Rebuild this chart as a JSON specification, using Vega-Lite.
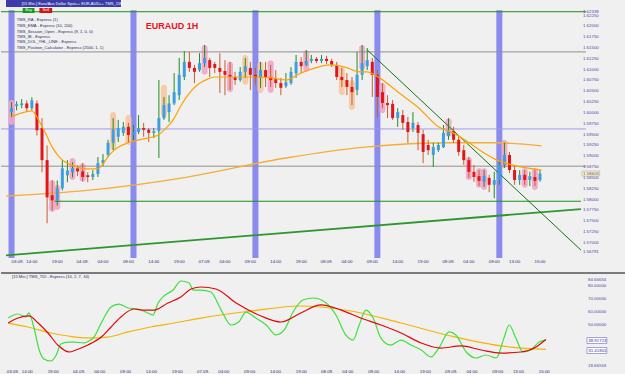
{
"$schema": "https://vega.github.io/schema/vega-lite/v6.json",
"background": "#f0f0f0",
"padding": 0,
"spacing": 15,
"bounds": "flush",
"config": {"view": {"stroke": null}, "font": "Liberation Sans", "axis": {"disable": true, "labels": false, "domain": false, "ticks": false, "grid": false, "title": null}},
"datasets": {
"candles": [
{"t":10,"o":1.6002,"h":1.6025,"l":1.5990,"c":1.6011},
{"t":11,"o":1.6016,"h":1.6027,"l":1.6006,"c":1.6020},
{"t":12,"o":1.6018,"h":1.6032,"l":1.6011,"c":1.6022},
{"t":13,"o":1.6022,"h":1.6029,"l":1.6002,"c":1.6011},
{"t":14,"o":1.6011,"h":1.6036,"l":1.6006,"c":1.6029},
{"t":15,"o":1.6022,"h":1.6029,"l":1.5948,"c":1.5960},
{"t":16,"o":1.5965,"h":1.5988,"l":1.5863,"c":1.5891},
{"t":17,"o":1.5891,"h":1.5925,"l":1.5745,"c":1.5805},
{"t":18,"o":1.5810,"h":1.5844,"l":1.5775,"c":1.5798},
{"t":19,"o":1.5798,"h":1.5844,"l":1.5786,"c":1.5826},
{"t":20,"o":1.5826,"h":1.5891,"l":1.5821,"c":1.5872},
{"t":21,"o":1.5856,"h":1.5891,"l":1.5840,"c":1.5867},
{"t":22,"o":1.5863,"h":1.5886,"l":1.5851,"c":1.5872},
{"t":23,"o":1.5872,"h":1.5879,"l":1.5854,"c":1.5865},
{"t":24,"o":1.5865,"h":1.5884,"l":1.5842,"c":1.5852},
{"t":25,"o":1.5856,"h":1.5863,"l":1.5840,"c":1.5852},
{"t":26,"o":1.5852,"h":1.5868,"l":1.5845,"c":1.5859},
{"t":27,"o":1.5859,"h":1.5898,"l":1.5852,"c":1.5884},
{"t":28,"o":1.5884,"h":1.5905,"l":1.5877,"c":1.5891},
{"t":29,"o":1.5903,"h":1.5938,"l":1.5898,"c":1.5931},
{"t":30,"o":1.5931,"h":1.5988,"l":1.5914,"c":1.5961},
{"t":31,"o":1.5945,"h":1.5984,"l":1.5933,"c":1.5965},
{"t":32,"o":1.5954,"h":1.5979,"l":1.5947,"c":1.5968},
{"t":33,"o":1.5968,"h":1.5977,"l":1.5931,"c":1.5949},
{"t":34,"o":1.5949,"h":1.5972,"l":1.5937,"c":1.5956},
{"t":35,"o":1.5956,"h":1.5995,"l":1.5951,"c":1.5965},
{"t":36,"o":1.5965,"h":1.5977,"l":1.5945,"c":1.5961},
{"t":37,"o":1.5961,"h":1.5965,"l":1.5933,"c":1.5954},
{"t":38,"o":1.5954,"h":1.5965,"l":1.5942,"c":1.5958},
{"t":39,"o":1.5958,"h":1.6076,"l":1.5896,"c":1.5988},
{"t":40,"o":1.5988,"h":1.6037,"l":1.5984,"c":1.6018},
{"t":41,"o":1.6002,"h":1.6041,"l":1.5979,"c":1.6022},
{"t":42,"o":1.6022,"h":1.6092,"l":1.6018,"c":1.6048},
{"t":43,"o":1.6041,"h":1.6127,"l":1.6030,"c":1.6088},
{"t":44,"o":1.6083,"h":1.6143,"l":1.6076,"c":1.6118},
{"t":45,"o":1.6118,"h":1.6141,"l":1.6095,"c":1.6104},
{"t":46,"o":1.6104,"h":1.6111,"l":1.6069,"c":1.6095},
{"t":47,"o":1.6099,"h":1.6138,"l":1.6095,"c":1.6115},
{"t":48,"o":1.6115,"h":1.6157,"l":1.6106,"c":1.6127},
{"t":49,"o":1.6122,"h":1.6127,"l":1.6083,"c":1.6104},
{"t":50,"o":1.6113,"h":1.6118,"l":1.6092,"c":1.6104},
{"t":51,"o":1.6104,"h":1.6138,"l":1.6046,"c":1.6095},
{"t":52,"o":1.6097,"h":1.6122,"l":1.6041,"c":1.6088},
{"t":53,"o":1.6088,"h":1.6118,"l":1.6053,"c":1.6083},
{"t":54,"o":1.6083,"h":1.6095,"l":1.6065,"c":1.6076},
{"t":55,"o":1.6076,"h":1.6106,"l":1.6072,"c":1.6095},
{"t":56,"o":1.6095,"h":1.6127,"l":1.6081,"c":1.6108},
{"t":57,"o":1.6104,"h":1.6118,"l":1.6053,"c":1.6088},
{"t":58,"o":1.6088,"h":1.6104,"l":1.6065,"c":1.6081},
{"t":59,"o":1.6081,"h":1.6118,"l":1.6058,"c":1.6099},
{"t":60,"o":1.6099,"h":1.6118,"l":1.6060,"c":1.6083},
{"t":61,"o":1.6083,"h":1.6111,"l":1.6060,"c":1.6076},
{"t":62,"o":1.6078,"h":1.6099,"l":1.6058,"c":1.6069},
{"t":63,"o":1.6069,"h":1.6081,"l":1.6041,"c":1.6058},
{"t":64,"o":1.6062,"h":1.6092,"l":1.6058,"c":1.6071},
{"t":65,"o":1.6069,"h":1.6106,"l":1.6065,"c":1.6095},
{"t":66,"o":1.6092,"h":1.6134,"l":1.6081,"c":1.6118},
{"t":67,"o":1.6118,"h":1.6129,"l":1.6092,"c":1.6108},
{"t":68,"o":1.6111,"h":1.6145,"l":1.6108,"c":1.6120},
{"t":69,"o":1.6120,"h":1.6134,"l":1.6115,"c":1.6125},
{"t":70,"o":1.6125,"h":1.6129,"l":1.6115,"c":1.6120},
{"t":71,"o":1.6120,"h":1.6134,"l":1.6115,"c":1.6125},
{"t":72,"o":1.6125,"h":1.6132,"l":1.6113,"c":1.6120},
{"t":73,"o":1.6120,"h":1.6125,"l":1.6106,"c":1.6111},
{"t":74,"o":1.6111,"h":1.6118,"l":1.6076,"c":1.6083},
{"t":75,"o":1.6083,"h":1.6104,"l":1.6060,"c":1.6076},
{"t":76,"o":1.6076,"h":1.6092,"l":1.6041,"c":1.6060},
{"t":77,"o":1.6060,"h":1.6083,"l":1.6018,"c":1.6048},
{"t":78,"o":1.6053,"h":1.6141,"l":1.6041,"c":1.6088},
{"t":79,"o":1.6088,"h":1.6157,"l":1.6076,"c":1.6115},
{"t":80,"o":1.6108,"h":1.6150,"l":1.6099,"c":1.6122},
{"t":81,"o":1.6118,"h":1.6127,"l":1.6037,"c":1.6088},
{"t":82,"o":1.6088,"h":1.6099,"l":1.5990,"c":1.6037},
{"t":83,"o":1.6048,"h":1.6069,"l":1.6011,"c":1.6023},
{"t":84,"o":1.6023,"h":1.6041,"l":1.5988,"c":1.6018},
{"t":85,"o":1.6021,"h":1.6030,"l":1.5984,"c":1.5988},
{"t":86,"o":1.5988,"h":1.6011,"l":1.5968,"c":1.6002},
{"t":87,"o":1.5995,"h":1.6007,"l":1.5961,"c":1.5977},
{"t":88,"o":1.5979,"h":1.5991,"l":1.5931,"c":1.5956},
{"t":89,"o":1.5965,"h":1.6002,"l":1.5956,"c":1.5977},
{"t":90,"o":1.5972,"h":1.5979,"l":1.5914,"c":1.5954},
{"t":91,"o":1.5951,"h":1.5961,"l":1.5884,"c":1.5910},
{"t":92,"o":1.5926,"h":1.5938,"l":1.5903,"c":1.5914},
{"t":93,"o":1.5903,"h":1.5931,"l":1.5875,"c":1.5921},
{"t":94,"o":1.5914,"h":1.5931,"l":1.5910,"c":1.5926},
{"t":95,"o":1.5921,"h":1.5972,"l":1.5919,"c":1.5954},
{"t":96,"o":1.5947,"h":1.5988,"l":1.5938,"c":1.5958},
{"t":97,"o":1.5958,"h":1.5968,"l":1.5931,"c":1.5938},
{"t":98,"o":1.5938,"h":1.5947,"l":1.5901,"c":1.5910},
{"t":99,"o":1.5914,"h":1.5926,"l":1.5880,"c":1.5891},
{"t":100,"o":1.5891,"h":1.5898,"l":1.5850,"c":1.5864},
{"t":101,"o":1.5864,"h":1.5880,"l":1.5841,"c":1.5852},
{"t":102,"o":1.5854,"h":1.5868,"l":1.5831,"c":1.5843},
{"t":103,"o":1.5841,"h":1.5868,"l":1.5829,"c":1.5854},
{"t":104,"o":1.5850,"h":1.5857,"l":1.5817,"c":1.5834},
{"t":105,"o":1.5834,"h":1.5864,"l":1.5803,"c":1.5845},
{"t":106,"o":1.5845,"h":1.5891,"l":1.5834,"c":1.5880},
{"t":107,"o":1.5880,"h":1.5931,"l":1.5873,"c":1.5903},
{"t":108,"o":1.5903,"h":1.5910,"l":1.5861,"c":1.5868},
{"t":109,"o":1.5868,"h":1.5880,"l":1.5834,"c":1.5845},
{"t":110,"o":1.5845,"h":1.5868,"l":1.5834,"c":1.5857},
{"t":111,"o":1.5857,"h":1.5868,"l":1.5834,"c":1.5845},
{"t":112,"o":1.5845,"h":1.5864,"l":1.5831,"c":1.5854},
{"t":113,"o":1.5852,"h":1.5868,"l":1.5831,"c":1.5843},
{"t":114,"o":1.5845,"h":1.5868,"l":1.5841,"c":1.5860}
],
"ema": [
{"t":10,"v":1.5991},{"t":12,"v":1.6000},{"t":14,"v":1.6005},{"t":15.3,"v":1.5984},{"t":16.65,"v":1.5954},
{"t":18,"v":1.5921},{"t":19.2,"v":1.5901},{"t":20.5,"v":1.5887},{"t":22.45,"v":1.5877},{"t":24.4,"v":1.5871},
{"t":26.9,"v":1.5871},{"t":27.9,"v":1.5880},{"t":28.8,"v":1.5896},{"t":30.2,"v":1.5914},{"t":32.9,"v":1.5931},
{"t":36,"v":1.5940},{"t":37.9,"v":1.5945},{"t":38.9,"v":1.5949},{"t":40.4,"v":1.5965},{"t":41.8,"v":1.5984},
{"t":43.3,"v":1.6016},{"t":44.7,"v":1.6041},{"t":46.6,"v":1.6065},{"t":48.6,"v":1.6078},{"t":49.9,"v":1.6083},
{"t":53.4,"v":1.6083},{"t":57.3,"v":1.6083},{"t":61.1,"v":1.6081},{"t":64,"v":1.6076},{"t":66.9,"v":1.6092},
{"t":69.8,"v":1.6104},{"t":72.7,"v":1.6111},{"t":75.6,"v":1.6106},{"t":78.5,"v":1.6095},{"t":79.9,"v":1.6095},
{"t":82.4,"v":1.6081},{"t":86.3,"v":1.6046},{"t":90.2,"v":1.6011},{"t":94,"v":1.5968},{"t":96.9,"v":1.5954},
{"t":99.8,"v":1.5933},{"t":102.7,"v":1.5910},{"t":105.6,"v":1.5891},{"t":108.5,"v":1.5880},{"t":111.4,"v":1.5873},
{"t":114.3,"v":1.5868}
],
"ema200": [
{"t":9.0,"v":1.5808},{"t":27.4,"v":1.5824},{"t":43.7,"v":1.5850},{"t":64,"v":1.5896},{"t":79.5,"v":1.5921},
{"t":97,"v":1.5931},{"t":105.6,"v":1.5931},{"t":114.3,"v":1.5924}
],
"hl": [
{"t":10,"lo":1.5972,"hi":1.6030,"k":"pink"},
{"t":18,"lo":1.5771,"hi":1.5845,"k":"pink"},
{"t":19,"lo":1.5776,"hi":1.5834,"k":"pink"},
{"t":22,"lo":1.5845,"hi":1.5896,"k":"pink"},
{"t":24,"lo":1.5841,"hi":1.5884,"k":"pink"},
{"t":30,"lo":1.5914,"hi":1.6002,"k":"peach"},
{"t":33,"lo":1.5926,"hi":1.5995,"k":"peach"},
{"t":40,"lo":1.5991,"hi":1.6065,"k":"peach"},
{"t":48,"lo":1.6088,"hi":1.6157,"k":"pink"},
{"t":53,"lo":1.6048,"hi":1.6118,"k":"pink"},
{"t":56,"lo":1.6065,"hi":1.6134,"k":"peach"},
{"t":59,"lo":1.6046,"hi":1.6118,"k":"peach"},
{"t":61,"lo":1.6046,"hi":1.6122,"k":"pink"},
{"t":68,"lo":1.6095,"hi":1.6145,"k":"pink"},
{"t":75,"lo":1.6041,"hi":1.6106,"k":"peach"},
{"t":77,"lo":1.6007,"hi":1.6076,"k":"peach"},
{"t":79,"lo":1.6099,"hi":1.6157,"k":"pink"},
{"t":83,"lo":1.5999,"hi":1.6069,"k":"pink"},
{"t":96,"lo":1.5945,"hi":1.5988,"k":"pink"},
{"t":100,"lo":1.5845,"hi":1.5898,"k":"pink"},
{"t":102,"lo":1.5827,"hi":1.5873,"k":"pink"},
{"t":103,"lo":1.5822,"hi":1.5873,"k":"pink"},
{"t":107,"lo":1.5873,"hi":1.5938,"k":"pink"},
{"t":111,"lo":1.5827,"hi":1.5873,"k":"pink"},
{"t":113,"lo":1.5822,"hi":1.5873,"k":"pink"}
],
"bands": [{"t":10},{"t":34},{"t":58},{"t":82},{"t":106}],
"levels": [{"p":1.62338,"k":"green"},{"p":1.6141,"k":"gray"},{"p":1.5963,"k":"purple"},{"p":1.5877,"k":"gray"}],
"trend": [
{"line":"up","t":8.913,"p":1.5671},{"line":"up","t":122.07,"p":1.5778},
{"line":"down","t":80,"p":1.61454},{"line":"down","t":122.07,"p":1.5683}
],
"legend": [
{"t":11.04,"p":1.62147,"text":"TMS_RA - Express (1)"},
{"t":11.04,"p":1.62015,"text":"TMS_EMA - Express (10, 200)"},
{"t":11.04,"p":1.61877,"text":"TMS_Session_Open - Express (9, 1, 0, 0)"},
{"t":11.04,"p":1.61754,"text":"TMS_IB - Express"},
{"t":11.04,"p":1.61632,"text":"TMS_DOL_YHL_LINE - Express"},
{"t":11.04,"p":1.61507,"text":"TMS_Position_Calculator - Express (2500, 1, 1)"}
],
"timeLabels": [
{"t":11.2,"text":"03.09.","b":1},{"t":14,"text":"14:00","b":0},{"t":19,"text":"19:00","b":0},
{"t":24,"text":"04.09.","b":1},{"t":28,"text":"04:00","b":0},{"t":33,"text":"09:00","b":0},{"t":38,"text":"14:00","b":0},{"t":43,"text":"19:00","b":0},
{"t":48,"text":"07.09.","b":1},{"t":52,"text":"04:00","b":0},{"t":57,"text":"09:00","b":0},{"t":62,"text":"14:00","b":0},{"t":67,"text":"19:00","b":0},
{"t":72,"text":"08.09.","b":1},{"t":76,"text":"04:00","b":0},{"t":81,"text":"09:00","b":0},{"t":86,"text":"14:00","b":0},{"t":91,"text":"19:00","b":0},
{"t":96,"text":"09.09.","b":1},{"t":100,"text":"04:00","b":0},{"t":105,"text":"09:00","b":0},{"t":109,"text":"13:00","b":0},{"t":114,"text":"15:00","b":0}
],
"priceLabels": [
{"p":1.56791,"text":"1.56791"},{"p":1.57,"text":"1.57000"},{"p":1.5725,"text":"1.57250"},{"p":1.575,"text":"1.57500"},
{"p":1.5775,"text":"1.57750"},{"p":1.58,"text":"1.58000"},{"p":1.5825,"text":"1.58250"},{"p":1.585,"text":"1.58500"},
{"p":1.5875,"text":"1.58750"},{"p":1.59,"text":"1.59000"},{"p":1.5925,"text":"1.59250"},{"p":1.595,"text":"1.59500"},
{"p":1.5975,"text":"1.59750"},{"p":1.6,"text":"1.60000"},{"p":1.6025,"text":"1.60250"},{"p":1.605,"text":"1.60500"},
{"p":1.6075,"text":"1.60750"},{"p":1.61,"text":"1.61000"},{"p":1.6125,"text":"1.61250"},{"p":1.615,"text":"1.61500"},
{"p":1.6175,"text":"1.61750"},{"p":1.62,"text":"1.62000"},{"p":1.6225,"text":"1.62250"},{"p":1.62338,"text":"1.62338"}
],
"oscLabels": [
{"v":18.66553,"text":"18.66553"},{"v":50,"text":"50.00000"},{"v":60,"text":"60.00000"},{"v":70,"text":"70.00000"},
{"v":80,"text":"80.00000"},{"v":84.66654,"text":"84.66654"}
],
"osc": [
{"s":"orange","t":10.3,"v":51.5},{"s":"orange","t":14.1,"v":48.5},{"s":"orange","t":18.6,"v":43.9},{"s":"orange","t":21.9,"v":41.6},
{"s":"orange","t":25.7,"v":40.1},{"s":"orange","t":29.6,"v":40.8},{"s":"orange","t":33.5,"v":44.7},{"s":"orange","t":37.9,"v":48.5},
{"s":"orange","t":42.4,"v":51.5},{"s":"orange","t":47.6,"v":55.3},{"s":"orange","t":57.3,"v":60.7},{"s":"orange","t":66.9,"v":64.5},
{"s":"orange","t":76.6,"v":60.7},{"s":"orange","t":86.3,"v":51.5},{"s":"orange","t":95.9,"v":41.6},{"s":"orange","t":105.6,"v":34.0},
{"s":"orange","t":114.3,"v":31.4},
{"s":"green","t":10.3,"v":55.3},{"s":"green","t":12.2,"v":58.4},{"s":"green","t":13.7,"v":56.1},{"s":"green","t":14.3,"v":59.2},
{"s":"green","t":15.3,"v":47.7},{"s":"green","t":16.3,"v":30.9},{"s":"green","t":17.2,"v":24.1},{"s":"green","t":18.6,"v":22.5},
{"s":"green","t":19.6,"v":27.1},{"s":"green","t":20.5,"v":35.5},{"s":"green","t":21.9,"v":37.0},{"s":"green","t":23.0,"v":37.0},
{"s":"green","t":25.0,"v":36.3},{"s":"green","t":25.9,"v":37.8},{"s":"green","t":26.9,"v":40.8},{"s":"green","t":28.3,"v":51.5},
{"s":"green","t":30.2,"v":63.7},{"s":"green","t":31.7,"v":66.0},{"s":"green","t":33.5,"v":63.0},{"s":"green","t":35.4,"v":62.2},
{"s":"green","t":37.3,"v":59.2},{"s":"green","t":38.3,"v":57.6},{"s":"green","t":39.3,"v":66.8},{"s":"green","t":40.4,"v":72.1},
{"s":"green","t":42.2,"v":76.7},{"s":"green","t":43.7,"v":83.6},{"s":"green","t":45.3,"v":82.1},{"s":"green","t":46.1,"v":76.7},
{"s":"green","t":47.6,"v":76.7},{"s":"green","t":49.5,"v":75.2},{"s":"green","t":51.5,"v":61.4},{"s":"green","t":53.4,"v":50.0},
{"s":"green","t":54.9,"v":52.3},{"s":"green","t":56.3,"v":59.9},{"s":"green","t":58.2,"v":55.3},{"s":"green","t":60.2,"v":50.0},
{"s":"green","t":62.1,"v":42.4},{"s":"green","t":63.7,"v":46.2},{"s":"green","t":65.4,"v":59.9},{"s":"green","t":67.3,"v":69.1},
{"s":"green","t":69.3,"v":70.6},{"s":"green","t":71.8,"v":66.8},{"s":"green","t":73.7,"v":57.6},{"s":"green","t":75.6,"v":42.4},
{"s":"green","t":77.0,"v":38.5},{"s":"green","t":78.2,"v":50.0},{"s":"green","t":79.5,"v":61.4},{"s":"green","t":80.9,"v":55.3},
{"s":"green","t":82.4,"v":40.0},{"s":"green","t":84.3,"v":34.7},{"s":"green","t":86.3,"v":38.5},{"s":"green","t":88.2,"v":34.7},
{"s":"green","t":90.2,"v":30.9},{"s":"green","t":92.1,"v":25.6},{"s":"green","t":93.6,"v":32.4},{"s":"green","t":95.6,"v":44.7},
{"s":"green","t":96.9,"v":42.4},{"s":"green","t":98.9,"v":29.4},{"s":"green","t":100.8,"v":24.8},{"s":"green","t":102.7,"v":27.1},
{"s":"green","t":104.7,"v":24.8},{"s":"green","t":106.2,"v":40.0},{"s":"green","t":107.2,"v":50.0},{"s":"green","t":108.5,"v":40.0},
{"s":"green","t":109.9,"v":29.4},{"s":"green","t":111.4,"v":30.9},{"s":"green","t":113.0,"v":37.0},{"s":"green","t":114.3,"v":38.5},
{"s":"red","t":10.3,"v":51.5},{"s":"red","t":12.2,"v":55.3},{"s":"red","t":14.3,"v":56.9},{"s":"red","t":16.1,"v":51.5},
{"s":"red","t":18.0,"v":43.9},{"s":"red","t":19.9,"v":34.7},{"s":"red","t":22.1,"v":29.4},{"s":"red","t":23.4,"v":30.9},
{"s":"red","t":25.7,"v":34.7},{"s":"red","t":28.3,"v":40.8},{"s":"red","t":30.2,"v":48.5},{"s":"red","t":32.1,"v":56.1},
{"s":"red","t":34.6,"v":62.2},{"s":"red","t":36.6,"v":61.4},{"s":"red","t":38.5,"v":61.4},{"s":"red","t":41.2,"v":66.8},
{"s":"red","t":43.7,"v":71.4},{"s":"red","t":45.7,"v":77.5},{"s":"red","t":47.6,"v":79.0},{"s":"red","t":50.5,"v":77.5},
{"s":"red","t":54.4,"v":66.8},{"s":"red","t":59.2,"v":56.9},{"s":"red","t":63.1,"v":52.3},{"s":"red","t":66.9,"v":59.2},
{"s":"red","t":70.8,"v":65.3},{"s":"red","t":74.7,"v":61.4},{"s":"red","t":78.5,"v":55.3},{"s":"red","t":82.4,"v":50.0},
{"s":"red","t":86.3,"v":43.9},{"s":"red","t":90.2,"v":36.3},{"s":"red","t":94.0,"v":32.4},{"s":"red","t":97.9,"v":34.0},
{"s":"red","t":101.8,"v":30.9},{"s":"red","t":105.6,"v":28.6},{"s":"red","t":109.5,"v":29.4},{"s":"red","t":112.4,"v":33.2},
{"s":"red","t":114.3,"v":38.9}
]
},
"vconcat": [
{
"width": 585,
"height": 258,
"layer": [
{
"data": {"name": "bands"},
"mark": {"type": "bar", "size": 6, "color": "#7878ee", "opacity": 0.85},
"encoding": {
"x": {"field": "t", "type": "quantitative", "scale": {"domain": [8.913, 122.07], "nice": false, "zero": false}, "axis": null},
"y": {"datum": 1.56649, "type": "quantitative", "scale": {"domain": [1.56649, 1.62609], "nice": false, "zero": false}, "axis": null},
"y2": {"datum": 1.6237}
}
},
{
"data": {"name": "hl"},
"mark": {"type": "bar", "size": 6, "cornerRadius": 3, "opacity": 0.9},
"encoding": {
"x": {"field": "t", "type": "quantitative", "scale": {"domain": [8.913, 122.07], "nice": false, "zero": false}, "axis": null},
"y": {"field": "lo", "type": "quantitative", "scale": {"domain": [1.56649, 1.62609], "nice": false, "zero": false}, "axis": null},
"y2": {"field": "hi"},
"color": {"condition": {"test": "datum.k == 'pink'", "value": "#f3a4c8"}, "value": "#f7c6a0"}
}
},
{
"data": {"name": "levels"},
"mark": {"type": "rule", "strokeWidth": 1},
"encoding": {
"y": {"field": "p", "type": "quantitative", "scale": {"domain": [1.56649, 1.62609], "nice": false, "zero": false}, "axis": null},
"color": {"condition": [{"test": "datum.k == 'green'", "value": "#1a8f1a"}, {"test": "datum.k == 'purple'", "value": "#9c9ce8"}], "value": "#909090"}
}
},
{
"data": {"values": [{}]},
"mark": {"type": "rule", "strokeWidth": 1.2, "color": "#1a8f1a"},
"encoding": {
"x": {"datum": 18.5, "type": "quantitative", "scale": {"domain": [8.913, 122.07], "nice": false, "zero": false}, "axis": null},
"x2": {"datum": 122.07},
"y": {"datum": 1.5796, "type": "quantitative", "scale": {"domain": [1.56649, 1.62609], "nice": false, "zero": false}, "axis": null}
}
},
{
"data": {"name": "trend"},
"mark": {"type": "line"},
"encoding": {
"x": {"field": "t", "type": "quantitative", "scale": {"domain": [8.913, 122.07], "nice": false, "zero": false}, "axis": null},
"y": {"field": "p", "type": "quantitative", "scale": {"domain": [1.56649, 1.62609], "nice": false, "zero": false}, "axis": null},
"detail": {"field": "line", "type": "nominal"},
"color": {"condition": {"test": "datum.line == 'up'", "value": "#2f962f"}, "value": "#137313"},
"strokeWidth": {"condition": {"test": "datum.line == 'up'", "value": 1.8}, "value": 1}
}
},
{
"data": {"name": "ema200"},
"mark": {"type": "line", "interpolate": "monotone", "strokeWidth": 1.4, "color": "#f5ad35"},
"encoding": {
"x": {"field": "t", "type": "quantitative", "scale": {"domain": [8.913, 122.07], "nice": false, "zero": false}, "axis": null},
"y": {"field": "v", "type": "quantitative", "scale": {"domain": [1.56649, 1.62609], "nice": false, "zero": false}, "axis": null}
}
},
{
"data": {"name": "candles"},
"mark": {"type": "rule", "strokeWidth": 1},
"encoding": {
"x": {"field": "t", "type": "quantitative", "scale": {"domain": [8.913, 122.07], "nice": false, "zero": false}, "axis": null},
"y": {"field": "l", "type": "quantitative", "scale": {"domain": [1.56649, 1.62609], "nice": false, "zero": false}, "axis": null},
"y2": {"field": "h"},
"color": {"condition": {"test": "datum.c >= datum.o", "value": "#1f8f1f"}, "value": "#c0622a"}
}
},
{
"data": {"name": "candles"},
"mark": {"type": "bar", "size": 3},
"encoding": {
"x": {"field": "t", "type": "quantitative", "scale": {"domain": [8.913, 122.07], "nice": false, "zero": false}, "axis": null},
"y": {"field": "o", "type": "quantitative", "scale": {"domain": [1.56649, 1.62609], "nice": false, "zero": false}, "axis": null},
"y2": {"field": "c"},
"color": {"condition": {"test": "datum.c >= datum.o", "value": "#3d9de2"}, "value": "#e3141a"}
}
},
{
"data": {"name": "ema"},
"mark": {"type": "line", "interpolate": "monotone", "strokeWidth": 1.2, "color": "#ffa200"},
"encoding": {
"x": {"field": "t", "type": "quantitative", "scale": {"domain": [8.913, 122.07], "nice": false, "zero": false}, "axis": null},
"y": {"field": "v", "type": "quantitative", "scale": {"domain": [1.56649, 1.62609], "nice": false, "zero": false}, "axis": null}
}
},
{
"data": {"values": [{}]},
"mark": {"type": "rect", "color": "#3c3ca8"},
"encoding": {
"x": {"datum": 8.913, "type": "quantitative", "scale": {"domain": [8.913, 122.07], "nice": false, "zero": false}, "axis": null},
"x2": {"datum": 31.54},
"y": {"datum": 1.62609, "type": "quantitative", "scale": {"domain": [1.56649, 1.62609], "nice": false, "zero": false}, "axis": null},
"y2": {"datum": 1.62447}
}
},
{
"data": {"values": [{}]},
"mark": {"type": "rect", "color": "#18961c"},
"encoding": {
"x": {"datum": 12.2, "type": "quantitative", "scale": {"domain": [8.913, 122.07], "nice": false, "zero": false}, "axis": null},
"x2": {"datum": 14.52},
"y": {"datum": 1.62424, "type": "quantitative", "scale": {"domain": [1.56649, 1.62609], "nice": false, "zero": false}, "axis": null},
"y2": {"datum": 1.62309}
}
},
{
"data": {"values": [{}]},
"mark": {"type": "rect", "color": "#d41414"},
"encoding": {
"x": {"datum": 15.49, "type": "quantitative", "scale": {"domain": [8.913, 122.07], "nice": false, "zero": false}, "axis": null},
"x2": {"datum": 18.0},
"y": {"datum": 1.62424, "type": "quantitative", "scale": {"domain": [1.56649, 1.62609], "nice": false, "zero": false}, "axis": null},
"y2": {"datum": 1.62309}
}
},
{
"data": {"values": [{"t": 12.0, "p": 1.62528, "text": "[15 Min.] Euro/Aus Dollar Spot++   EUR.AUD++  TMS_15M"}]},
"mark": {"type": "text", "align": "left", "baseline": "middle", "fontSize": 4, "color": "#ffffff"},
"encoding": {
"x": {"field": "t", "type": "quantitative", "scale": {"domain": [8.913, 122.07], "nice": false, "zero": false}, "axis": null},
"y": {"field": "p", "type": "quantitative", "scale": {"domain": [1.56649, 1.62609], "nice": false, "zero": false}, "axis": null},
"text": {"field": "text"}
}
},
{
"data": {"values": [{"t": 13.36, "p": 1.62367, "text": "Buy"}, {"t": 16.75, "p": 1.62367, "text": "Sell"}]},
"mark": {"type": "text", "align": "center", "baseline": "middle", "fontSize": 4, "color": "#ffffff"},
"encoding": {
"x": {"field": "t", "type": "quantitative", "scale": {"domain": [8.913, 122.07], "nice": false, "zero": false}, "axis": null},
"y": {"field": "p", "type": "quantitative", "scale": {"domain": [1.56649, 1.62609], "nice": false, "zero": false}, "axis": null},
"text": {"field": "text"}
}
},
{
"data": {"name": "legend"},
"mark": {"type": "text", "align": "left", "baseline": "middle", "fontSize": 4.1, "color": "#2a2a5e"},
"encoding": {
"x": {"field": "t", "type": "quantitative", "scale": {"domain": [8.913, 122.07], "nice": false, "zero": false}, "axis": null},
"y": {"field": "p", "type": "quantitative", "scale": {"domain": [1.56649, 1.62609], "nice": false, "zero": false}, "axis": null},
"text": {"field": "text"}
}
},
{
"data": {"values": [{"t": 41.6, "p": 1.62008, "text": "EURAUD 1H"}]},
"mark": {"type": "text", "align": "center", "baseline": "middle", "fontSize": 9, "fontWeight": "bold", "color": "#e8141c"},
"encoding": {
"x": {"field": "t", "type": "quantitative", "scale": {"domain": [8.913, 122.07], "nice": false, "zero": false}, "axis": null},
"y": {"field": "p", "type": "quantitative", "scale": {"domain": [1.56649, 1.62609], "nice": false, "zero": false}, "axis": null},
"text": {"field": "text"}
}
},
{
"data": {"name": "timeLabels"},
"mark": {"type": "text", "align": "center", "baseline": "middle", "fontSize": 4.4, "color": "#2a2a7a"},
"encoding": {
"x": {"field": "t", "type": "quantitative", "scale": {"domain": [8.913, 122.07], "nice": false, "zero": false}, "axis": null},
"y": {"datum": 1.56568, "type": "quantitative", "scale": {"domain": [1.56649, 1.62609], "nice": false, "zero": false}, "axis": null},
"text": {"field": "text"},
"fontWeight": {"condition": {"test": "datum.b == 1", "value": "bold"}, "value": "normal"}
}
},
{
"data": {"name": "priceLabels"},
"mark": {"type": "text", "align": "left", "baseline": "middle", "fontSize": 4.4, "color": "#5048a0"},
"encoding": {
"x": {"datum": 122.45, "type": "quantitative", "scale": {"domain": [8.913, 122.07], "nice": false, "zero": false}, "axis": null},
"y": {"field": "p", "type": "quantitative", "scale": {"domain": [1.56649, 1.62609], "nice": false, "zero": false}, "axis": null},
"text": {"field": "text"}
}
},
{
"data": {"values": [{}]},
"mark": {"type": "rect", "color": "#fff6c4", "stroke": "#a0a0a0", "strokeWidth": 0.5},
"encoding": {
"x": {"datum": 122.26, "type": "quantitative", "scale": {"domain": [8.913, 122.07], "nice": false, "zero": false}, "axis": null},
"x2": {"datum": 125.74},
"y": {"datum": 1.58659, "type": "quantitative", "scale": {"domain": [1.56649, 1.62609], "nice": false, "zero": false}, "axis": null},
"y2": {"datum": 1.58543}
}
},
{
"data": {"values": [{"t": 122.45, "p": 1.58601, "text": "1.58603"}]},
"mark": {"type": "text", "align": "left", "baseline": "middle", "fontSize": 4.4, "color": "#5048a0"},
"encoding": {
"x": {"field": "t", "type": "quantitative", "scale": {"domain": [8.913, 122.07], "nice": false, "zero": false}, "axis": null},
"y": {"field": "p", "type": "quantitative", "scale": {"domain": [1.56649, 1.62609], "nice": false, "zero": false}, "axis": null},
"text": {"field": "text"}
}
}
]
},
{
"width": 585,
"height": 95,
"layer": [
{
"data": {"name": "osc"},
"mark": {"type": "line", "interpolate": "monotone", "strokeWidth": 1.2},
"encoding": {
"x": {"field": "t", "type": "quantitative", "scale": {"domain": [8.913, 122.07], "nice": false, "zero": false}, "axis": null},
"y": {"field": "v", "type": "quantitative", "scale": {"domain": [17.17, 89.7], "nice": false, "zero": false}, "axis": null},
"detail": {"field": "s", "type": "nominal"},
"color": {"condition": [{"test": "datum.s == 'green'", "value": "#3ee03e"}, {"test": "datum.s == 'red'", "value": "#e00808"}], "value": "#f5b400"}
}
},
{
"data": {"values": [{}]},
"mark": {"type": "rule", "strokeWidth": 2, "color": "#7a7a7a"},
"encoding": {
"x": {"datum": 8.913, "type": "quantitative", "scale": {"domain": [8.913, 122.07], "nice": false, "zero": false}, "axis": null},
"x2": {"datum": 129.8},
"y": {"datum": 89.7, "type": "quantitative", "scale": {"domain": [17.17, 89.7], "nice": false, "zero": false}, "axis": null}
}
},
{
"data": {"values": [{"t": 11.04, "v": 86.8, "text": "[15 Min.] TMS_TDI - Express (10, 2, 7, 34)"}]},
"mark": {"type": "text", "align": "left", "baseline": "middle", "fontSize": 4.1, "color": "#2a2a5e"},
"encoding": {
"x": {"field": "t", "type": "quantitative", "scale": {"domain": [8.913, 122.07], "nice": false, "zero": false}, "axis": null},
"y": {"field": "v", "type": "quantitative", "scale": {"domain": [17.17, 89.7], "nice": false, "zero": false}, "axis": null},
"text": {"field": "text"}
}
},
{
"data": {"name": "timeLabels"},
"mark": {"type": "text", "align": "center", "baseline": "middle", "fontSize": 4.4, "color": "#2a2a7a"},
"encoding": {
"x": {"field": "t", "type": "quantitative", "scale": {"domain": [8.913, 122.07], "nice": false, "zero": false}, "axis": null},
"y": {"datum": 14.12, "type": "quantitative", "scale": {"domain": [17.17, 89.7], "nice": false, "zero": false}, "axis": null},
"text": {"field": "text"},
"fontWeight": {"condition": {"test": "datum.b == 1", "value": "bold"}, "value": "normal"}
}
},
{
"data": {"name": "oscLabels"},
"mark": {"type": "text", "align": "left", "baseline": "middle", "fontSize": 4.4, "color": "#5048a0"},
"encoding": {
"x": {"datum": 122.45, "type": "quantitative", "scale": {"domain": [8.913, 122.07], "nice": false, "zero": false}, "axis": null},
"y": {"field": "v", "type": "quantitative", "scale": {"domain": [17.17, 89.7], "nice": false, "zero": false}, "axis": null},
"text": {"field": "text"}
}
},
{
"data": {"values": [{}]},
"mark": {"type": "rect", "color": "#ffffff", "stroke": "#6a6ac4", "strokeWidth": 0.6},
"encoding": {
"x": {"datum": 122.26, "type": "quantitative", "scale": {"domain": [8.913, 122.07], "nice": false, "zero": false}, "axis": null},
"x2": {"datum": 126.1},
"y": {"datum": 40.45, "type": "quantitative", "scale": {"domain": [17.17, 89.7], "nice": false, "zero": false}, "axis": null},
"y2": {"datum": 35.87}
}
},
{
"data": {"values": [{}]},
"mark": {"type": "rect", "color": "#ffffff", "stroke": "#6a6ac4", "strokeWidth": 0.6},
"encoding": {
"x": {"datum": 122.26, "type": "quantitative", "scale": {"domain": [8.913, 122.07], "nice": false, "zero": false}, "axis": null},
"x2": {"datum": 126.1},
"y": {"datum": 32.82, "type": "quantitative", "scale": {"domain": [17.17, 89.7], "nice": false, "zero": false}, "axis": null},
"y2": {"datum": 28.24}
}
},
{
"data": {"values": [{"t": 122.5, "v": 38.16, "text": "38.91713"}, {"t": 122.5, "v": 30.53, "text": "31.41801"}]},
"mark": {"type": "text", "align": "left", "baseline": "middle", "fontSize": 4.4, "color": "#3030a0"},
"encoding": {
"x": {"field": "t", "type": "quantitative", "scale": {"domain": [8.913, 122.07], "nice": false, "zero": false}, "axis": null},
"y": {"field": "v", "type": "quantitative", "scale": {"domain": [17.17, 89.7], "nice": false, "zero": false}, "axis": null},
"text": {"field": "text"}
}
}
]
}
]
}
